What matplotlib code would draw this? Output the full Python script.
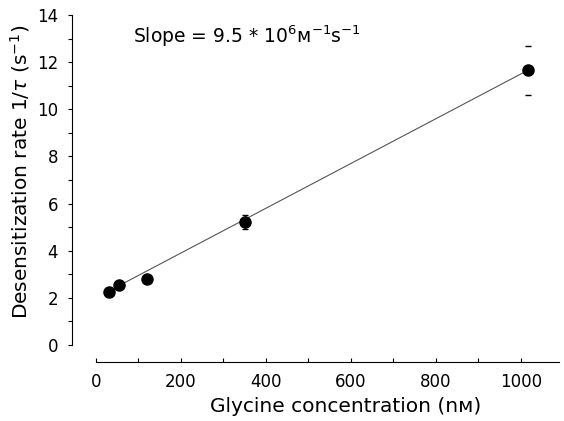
import numpy as np
import matplotlib
matplotlib.use("Agg")
import matplotlib.pyplot as plt
from matplotlib.ticker import MultipleLocator

# data
glycine_nM = [31, 54, 121, 350, 1016]
rate = [2.24, 2.56, 2.78, 5.23, 11.65]
rate_err = [0.0, 0.0, 0.0, 0.3, 1.05]

# linear fit (slope 9.5e6 M^-1 s^-1 = 9.5e-3 nM^-1 s^-1)
fit_slope = 0.0095
fit_intercept = 2.0
fit_range = [31, 1016]

plt.rcParams['font.family'] = ['DejaVu Sans']

fig = plt.figure(figsize=(5.64, 4.21), dpi=100)
ax = fig.add_axes([72/564, 1 - 362/421, (560 - 72)/564, (362 - 15)/421])

xf = np.array(fit_range)
ax.plot(xf, fit_intercept + fit_slope * xf, color='#555555', lw=0.8, zorder=1)

x = np.array(glycine_nM)
y = np.array(rate)
e = np.array(rate_err)
ax.errorbar(x[3:4], y[3:4], yerr=e[3:4], fmt='none', ecolor='black',
            elinewidth=1.0, capsize=2, capthick=1.0)
ax.errorbar(x[4:], y[4:], yerr=e[4:], fmt='none', ecolor='black',
            elinewidth=0, capsize=2, capthick=1.0)
ax.plot(x, y, 'o', color='black', ms=8, zorder=3)

ax.set_xlim(-56, 1092)
ax.set_ylim(-0.72, 14)

for s in ['top', 'right']:
    ax.spines[s].set_visible(False)
ax.spines['left'].set_bounds(0, 14)
ax.spines['bottom'].set_bounds(0, 1090)
ax.spines['left'].set_linewidth(0.8)
ax.spines['bottom'].set_linewidth(0.8)
ax.spines['bottom'].set_linestyle((0, (6, 1)))

ax.set_xticks([0, 200, 400, 600, 800, 1000])
ax.xaxis.set_minor_locator(MultipleLocator(100))
ax.set_yticks(range(0, 15, 2))
ax.yaxis.set_minor_locator(MultipleLocator(1))
ax.tick_params(axis='x', which='both', direction='in', length=3, width=0.8,
               labelsize=12, pad=8)
ax.tick_params(axis='y', which='both', direction='out', length=3, width=0.8,
               labelsize=12, pad=7)

ax.set_xlabel('Glycine concentration (nᴍ)', fontsize=14.5)
ax.xaxis.set_label_coords(0.56, -0.102)
ax.set_ylabel(r'Desensitization rate 1/$\tau$ (s$^{-1}$)', fontsize=14.5)
ax.yaxis.set_label_coords(-0.082, 0.548)

ax.text(0.125, 0.94, r'Slope = 9.5 * 10$^{6}$ᴍ$^{-1}$s$^{-1}$',
        transform=ax.transAxes, fontsize=13.5, va='center', ha='left')

fig.savefig('out.png', dpi=100)
